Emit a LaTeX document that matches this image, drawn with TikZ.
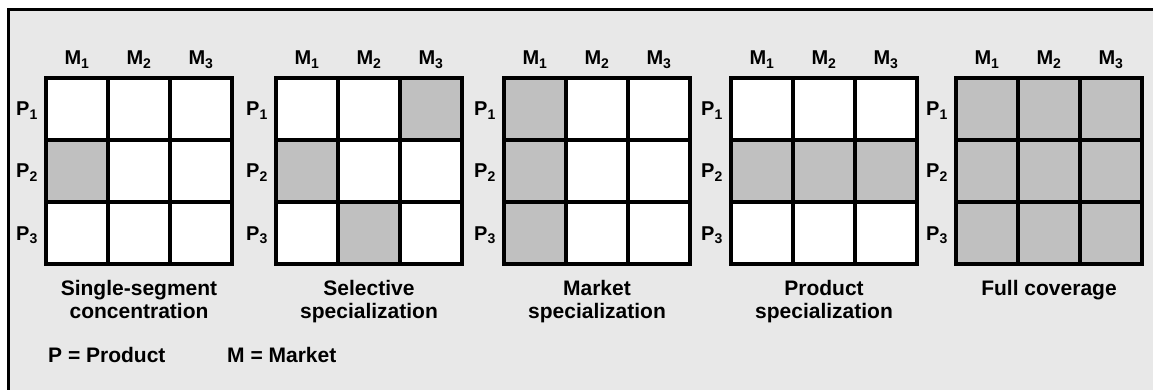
\documentclass[tikz,border=0pt]{standalone}
\usepackage{fontspec}
\setmainfont{Liberation Sans}
\definecolor{panelbg}{RGB}{232,232,232}
\definecolor{cellon}{RGB}{192,192,192}
\begin{document}
\begin{tikzpicture}[x=1pt,y=-1pt,
  cell/.style={draw=black,line width=4pt,minimum size=62pt,inner sep=0pt,outer sep=0pt,fill=white},
  on/.style={fill=cellon},
  collab/.style={anchor=base,font=\fontsize{20}{22}\selectfont\bfseries,inner sep=0pt},
  rowlab/.style={anchor=base east,font=\fontsize{20}{22}\selectfont\bfseries,inner sep=0pt},
  caption/.style={anchor=base,font=\fontsize{21}{24}\selectfont\bfseries,inner sep=0pt},
]
\useasboundingbox (0,0) rectangle (1153,390);
% panel
\draw[line width=3pt,fill=panelbg] (8,10) rectangle (1175,410);

% one 3x3 grid: #1 name, #2 left edge, #3 list of shaded cells (row-col)
\newcommand{\segmentgrid}[3]{%
  \foreach \r in {1,2,3}{
    \foreach \c in {1,2,3}{
      \node[cell] (#1r\r c\c) at ({#2+31+62*(\c-1)},{78+31+62*(\r-1)}) {};
    }
  }
  \foreach \rc in {#3}{
    \node[cell,on] (#1s\rc) at (#1r\rc.center) {};
  }
  \foreach \c in {1,2,3}{
    \node[collab] (#1m\c) at ({#2+31+62*(\c-1)},65) {M\textsubscript{\c}};
  }
  \foreach \r in {1,2,3}{
    \node[rowlab] (#1p\r) at ({#2-8},{78+31+62*(\r-1)+7}) {P\textsubscript{\r}};
  }
}

\segmentgrid{a}{46}{2c1}
\segmentgrid{b}{276}{1c3,2c1,3c2}
\segmentgrid{c}{504}{1c1,2c1,3c1}
\segmentgrid{d}{731}{2c1,2c2,2c3}
\segmentgrid{e}{956}{1c1,1c2,1c3,2c1,2c2,2c3,3c1,3c2,3c3}

% captions
\node[caption] (capa1) at (139,295) {Single-segment};
\node[caption] (capa2) at (139,318) {concentration};
\node[caption] (capb1) at (369,295) {Selective};
\node[caption] (capb2) at (369,318) {specialization};
\node[caption] (capc1) at (597,295) {Market};
\node[caption] (capc2) at (597,318) {specialization};
\node[caption] (capd1) at (824,295) {Product};
\node[caption] (capd2) at (824,318) {specialization};
\node[caption] (cape1) at (1049,295) {Full coverage};

% legend
\node[caption,anchor=base west] (legp) at (48,362) {P = Product};
\node[caption,anchor=base west] (legm) at (227,362) {M = Market};
\end{tikzpicture}
\end{document}
